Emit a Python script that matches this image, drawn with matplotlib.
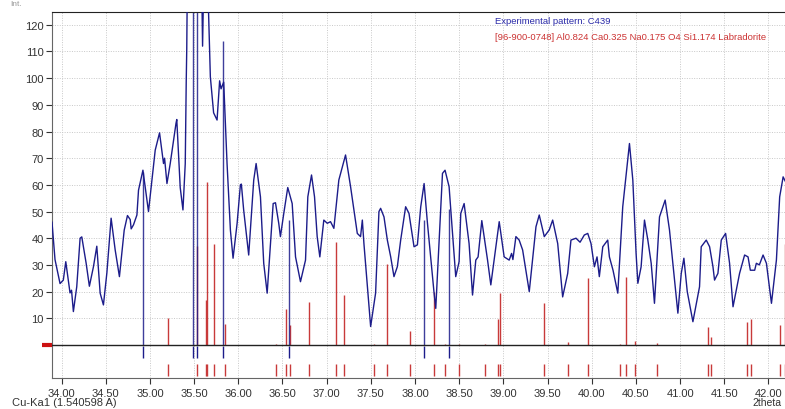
import matplotlib
matplotlib.use("Agg")
import matplotlib.pyplot as plt
import matplotlib.transforms as mtransforms
import numpy as np

plt.rcParams['font.family'] = ['Liberation Sans', 'DejaVu Sans']

# Experimental pattern (2theta, counts); values above the axis top are clipped
two_theta = [33.892, 33.926, 33.983, 34.020, 34.048, 34.077, 34.096, 34.113, 34.134, 34.172,
             34.210, 34.229, 34.278, 34.315, 34.361, 34.399, 34.437, 34.474, 34.513, 34.561,
             34.607, 34.655, 34.709, 34.746, 34.777, 34.788, 34.814, 34.853, 34.871, 34.921,
             34.984, 35.060, 35.109, 35.154, 35.166, 35.193, 35.230, 35.295, 35.304, 35.343,
             35.374, 35.400, 35.411, 35.417, 35.430, 35.490, 35.535, 35.576, 35.596, 35.616,
             35.640, 35.655, 35.684, 35.721, 35.760, 35.789, 35.805, 35.835, 35.873, 35.911,
             35.941, 35.987, 36.024, 36.035, 36.061, 36.118, 36.175, 36.202, 36.251, 36.288,
             36.327, 36.395, 36.421, 36.458, 36.477, 36.515, 36.560, 36.610, 36.648, 36.704,
             36.761, 36.787, 36.829, 36.863, 36.893, 36.923, 36.968, 37.007, 37.044, 37.082,
             37.138, 37.214, 37.271, 37.347, 37.384, 37.404, 37.422, 37.498, 37.554, 37.592,
             37.611, 37.649, 37.687, 37.725, 37.762, 37.800, 37.838, 37.894, 37.932, 37.989,
             38.027, 38.065, 38.103, 38.141, 38.216, 38.235, 38.311, 38.340, 38.386, 38.405,
             38.461, 38.499, 38.518, 38.556, 38.612, 38.651, 38.688, 38.714, 38.756, 38.821,
             38.858, 38.926, 38.953, 39.009, 39.066, 39.093, 39.108, 39.142, 39.179, 39.218,
             39.255, 39.293, 39.369, 39.406, 39.463, 39.519, 39.558, 39.615, 39.671, 39.728,
             39.765, 39.822, 39.868, 39.916, 39.955, 39.992, 40.030, 40.060, 40.086, 40.125,
             40.181, 40.200, 40.241, 40.295, 40.351, 40.427, 40.465, 40.502, 40.522, 40.559,
             40.597, 40.635, 40.673, 40.710, 40.767, 40.831, 40.880, 40.975, 41.013, 41.043,
             41.081, 41.145, 41.220, 41.239, 41.296, 41.334, 41.372, 41.390, 41.428, 41.466,
             41.515, 41.560, 41.599, 41.673, 41.730, 41.769, 41.795, 41.844, 41.863, 41.897,
             41.939, 41.977, 42.034, 42.090, 42.127, 42.166, 42.203]
counts = [46, 32, 23, 24.3, 31.2, 24.3, 19.5, 20.5, 12.5, 21.8,
          40, 40.5, 30.7, 22, 29.3, 37, 19.4, 15, 27, 47.5,
          35.6, 25.6, 43, 48.5, 47, 43.5, 45, 48.7, 58, 65.5,
          50, 73, 79.5, 68, 70, 60.5, 68, 83, 84.5, 59,
          50.6, 68, 98.6, 111, 160, 250, 260, 160, 112, 150,
          150, 135, 100.5, 87, 84.3, 99, 96, 98.5, 68, 43,
          32.5, 45.6, 60, 60.3, 50.6, 33.7, 61.8, 68, 55.5, 30.6,
          19.4, 53, 53.3, 45.6, 40.6, 49.3, 59, 53, 33, 23.7,
          31.8, 55.5, 63.7, 55.5, 40.6, 33, 46.8, 45.6, 46.2, 43.7,
          61.8, 71.2, 59.3, 41.8, 40.6, 46.8, 38, 6.9, 19.4, 50,
          51.2, 48, 39.3, 33, 25.6, 29.3, 39.3, 51.8, 49.3, 36.8,
          37.5, 51.8, 60.5, 45.6, 19.4, 13.7, 64.3, 65.5, 59.3, 50.6,
          25.6, 31.2, 49.3, 53, 38, 18.7, 31.8, 33, 46.6, 31.8,
          22.5, 39.3, 46.2, 33, 31.8, 34.3, 32, 40.6, 39.3, 35.6,
          28, 20, 44.3, 48.7, 40.6, 43.1, 46.8, 38, 18, 26.8,
          39.3, 40, 38.5, 41.2, 41.8, 38, 29.3, 33, 25.6, 36.8,
          39.3, 33, 28, 19.4, 51.8, 75.5, 61.8, 34.3, 23.1, 29.3,
          46.8, 39.3, 30.6, 15.6, 48, 54.3, 43.1, 11.9, 26.8, 32.5,
          20, 8.7, 21.8, 36.8, 39.3, 36.8, 29.3, 24.3, 26.8, 39.3,
          41.8, 30.6, 14.3, 26.8, 33.7, 33, 28, 28, 30.6, 30,
          33.7, 30.6, 15.6, 31.8, 55.5, 63, 60.5]

# Experimental peak list (sticks)
exp_peaks = [34.924, 35.490, 35.536, 35.830, 36.570, 38.100, 38.390]
exp_heights = [65, 300, 300, 114, 47, 47, 51]

# Reference pattern [96-900-0748] Labradorite
ref_peaks = [35.21, 35.53, 35.63, 35.65, 35.72, 35.85, 36.43, 36.54, 36.58, 36.80,
             37.11, 37.20, 37.535, 37.68, 37.94, 38.215, 38.34, 38.50, 38.79, 38.94,
             38.96, 39.455, 39.73, 39.955, 40.325, 40.39, 40.49, 40.74, 41.315, 41.345,
             41.757, 41.80, 42.135, 42.19]
ref_heights = [10, 37, 17, 61, 38, 8, 0.4, 13.4, 7.5, 16,
               38.7, 18.7, 0.5, 30.3, 5.2, 20, 0.3, 0.3, 0.3, 9.6,
               19.4, 15.6, 1, 25, 0.3, 25.6, 1.5, 0.8, 6.9, 3.1,
               8.5, 9.7, 7.5, 38]

x_ticks = [34.0, 34.5, 35.0, 35.5, 36.0, 36.5, 37.0, 37.5, 38.0, 38.5, 39.0, 39.5,
           40.0, 40.5, 41.0, 41.5, 42.0]
y_ticks = [10, 20, 30, 40, 50, 60, 70, 80, 90, 100, 110, 120]

blue = '#1c1c8a'
red = '#c83a3a'

fig = plt.figure(figsize=(7.85, 4.10), dpi=100)
ax = fig.add_axes([52/785, 1 - 379/410, 1 - 52/785 + 0.002, (379 - 13)/410])
ax.set_xlim(33.892, 42.205)
ax.set_ylim(-12.4, 124.8)

ax.set_xticks(x_ticks)
ax.set_xticklabels([f"{t:.2f}" for t in x_ticks])
ax.set_yticks(y_ticks)
ax.tick_params(axis='both', labelsize=8, colors='#333333', length=4, width=0.8)
ax.tick_params(axis='y', pad=2)
ax.tick_params(axis='x', pad=3)

# grid
for t in x_ticks:
    ax.axvline(t, color='#c8c8c8', lw=0.7, ls=(0, (1, 1.5)), zorder=0)
for t in y_ticks:
    ax.axhline(t, color='#c8c8c8', lw=0.7, ls=(0, (1, 1.5)), zorder=0)

ax.spines['right'].set_visible(False)
ax.spines['top'].set_color('#222222')
ax.spines['left'].set_color('#666666')
ax.spines['bottom'].set_color('#666666')

# zero line
ax.axhline(0, color='#222222', lw=1.0, zorder=3)

# reference sticks
ax.vlines(ref_peaks, 0, ref_heights, color=red, lw=1.0, zorder=2)
ax.vlines(ref_peaks, -7.1, -11.6, color=red, lw=1.0, zorder=2)

# experimental peak sticks
ax.vlines(exp_peaks, 0, exp_heights, color=blue, lw=1.0, alpha=0.85, zorder=2)
ax.vlines(exp_peaks, -0.4, -4.9, color=blue, lw=1.0, zorder=2)

# pattern
ax.plot(two_theta, counts, color=blue, lw=1.0, zorder=4)

# red marker at zero on the y axis
trans = mtransforms.blended_transform_factory(ax.transAxes, ax.transData)
ax.plot([-0.014, 0.0], [0, 0], color='#cc1111', lw=3, transform=trans, clip_on=False,
        solid_capstyle='butt')

# legend texts
fig.text(495/785, 1 - 22/410, "Experimental pattern: C439", color='#2a2aa8',
         fontsize=6.8, va='center', ha='left')
fig.text(495/785, 1 - 37/410,
         "[96-900-0748] Al0.824 Ca0.325 Na0.175 O4 Si1.174 Labradorite",
         color='#cc3333', fontsize=6.8, va='center', ha='left')

fig.text(12/785, 1 - 403/410, "Cu-Ka1 (1.540598 A)", color='#333333', fontsize=8,
         va='center', ha='left')
fig.text(781/785, 1 - 403/410, "2theta", color='#333333', fontsize=7.5,
         va='center', ha='right')
fig.text(10/785, 1 - 5/410, "Int.", color='#999999', fontsize=6, va='center', ha='left')

fig.savefig("out.png", dpi=100)
